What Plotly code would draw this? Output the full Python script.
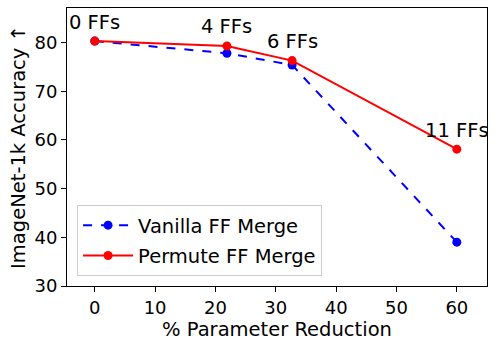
import plotly.graph_objects as go

# values
param_reduction = [0, 21.9, 32.7, 60]
vanilla_acc = [80.3, 77.8, 75.4, 39.0]
permute_acc = [80.3, 79.3, 76.3, 58.1]
ff_labels = ["0 FFs", "4 FFs", "6 FFs", "11 FFs"]

FONT = "DejaVu Sans"
TXT = 19.5
TICK = 18

fig = go.Figure()

fig.add_trace(go.Scatter(
    x=param_reduction, y=vanilla_acc,
    mode="lines+markers",
    name="Vanilla FF Merge", legendgroup="v",
    line=dict(color="blue", width=2, dash="dash"),
    marker=dict(color="blue", size=9),
))
fig.add_trace(go.Scatter(
    x=param_reduction, y=permute_acc,
    mode="lines+markers",
    name="Permute FF Merge", legendgroup="p",
    line=dict(color="red", width=2),
    marker=dict(color="red", size=9),
))

# FF count labels above the permute points
for xv, yv, lab in zip(param_reduction, permute_acc, ff_labels):
    fig.add_annotation(
        x=xv, y=yv, text=lab, showarrow=False,
        yshift=19, font=dict(family=FONT, size=TXT, color="black"),
    )

axis_common = dict(
    showline=True, linecolor="black", linewidth=1, mirror=True,
    ticks="outside", ticklen=5, tickcolor="black",
    showgrid=False, zeroline=False, automargin=False,
    tickfont=dict(family=FONT, size=TICK, color="black"),
)

fig.update_xaxes(
    range=[-4.6, 65], tickvals=[0, 10, 20, 30, 40, 50, 60],
    title=dict(text="% Parameter Reduction", font=dict(family=FONT, size=TXT, color="black"), standoff=2),
    **axis_common,
)
fig.update_yaxes(
    range=[30, 87.1], tickvals=[30, 40, 50, 60, 70, 80],
    title=dict(text="ImageNet-1k Accuracy ↑", font=dict(family=FONT, size=TXT, color="black"), standoff=3),
    **axis_common,
)

fig.update_layout(
    width=499, height=348,
    margin=dict(l=67, r=12, t=8, b=62),
    paper_bgcolor="white", plot_bgcolor="white",
    font=dict(family=FONT, size=TXT, color="black"),
    legend=dict(
        x=0.024, y=0.036, xanchor="left", yanchor="bottom",
        bgcolor="rgba(255,255,255,0.8)", bordercolor="#cccccc", borderwidth=1,
        font=dict(family=FONT, size=TXT, color="black"),
        traceorder="grouped", tracegroupgap=2, itemwidth=50,
    ),
)

# drop the default body margin so the figure sits at the page origin
fig.write_html("out.html", config={"displayModeBar": False},
               post_script="document.body.style.margin='0';")
